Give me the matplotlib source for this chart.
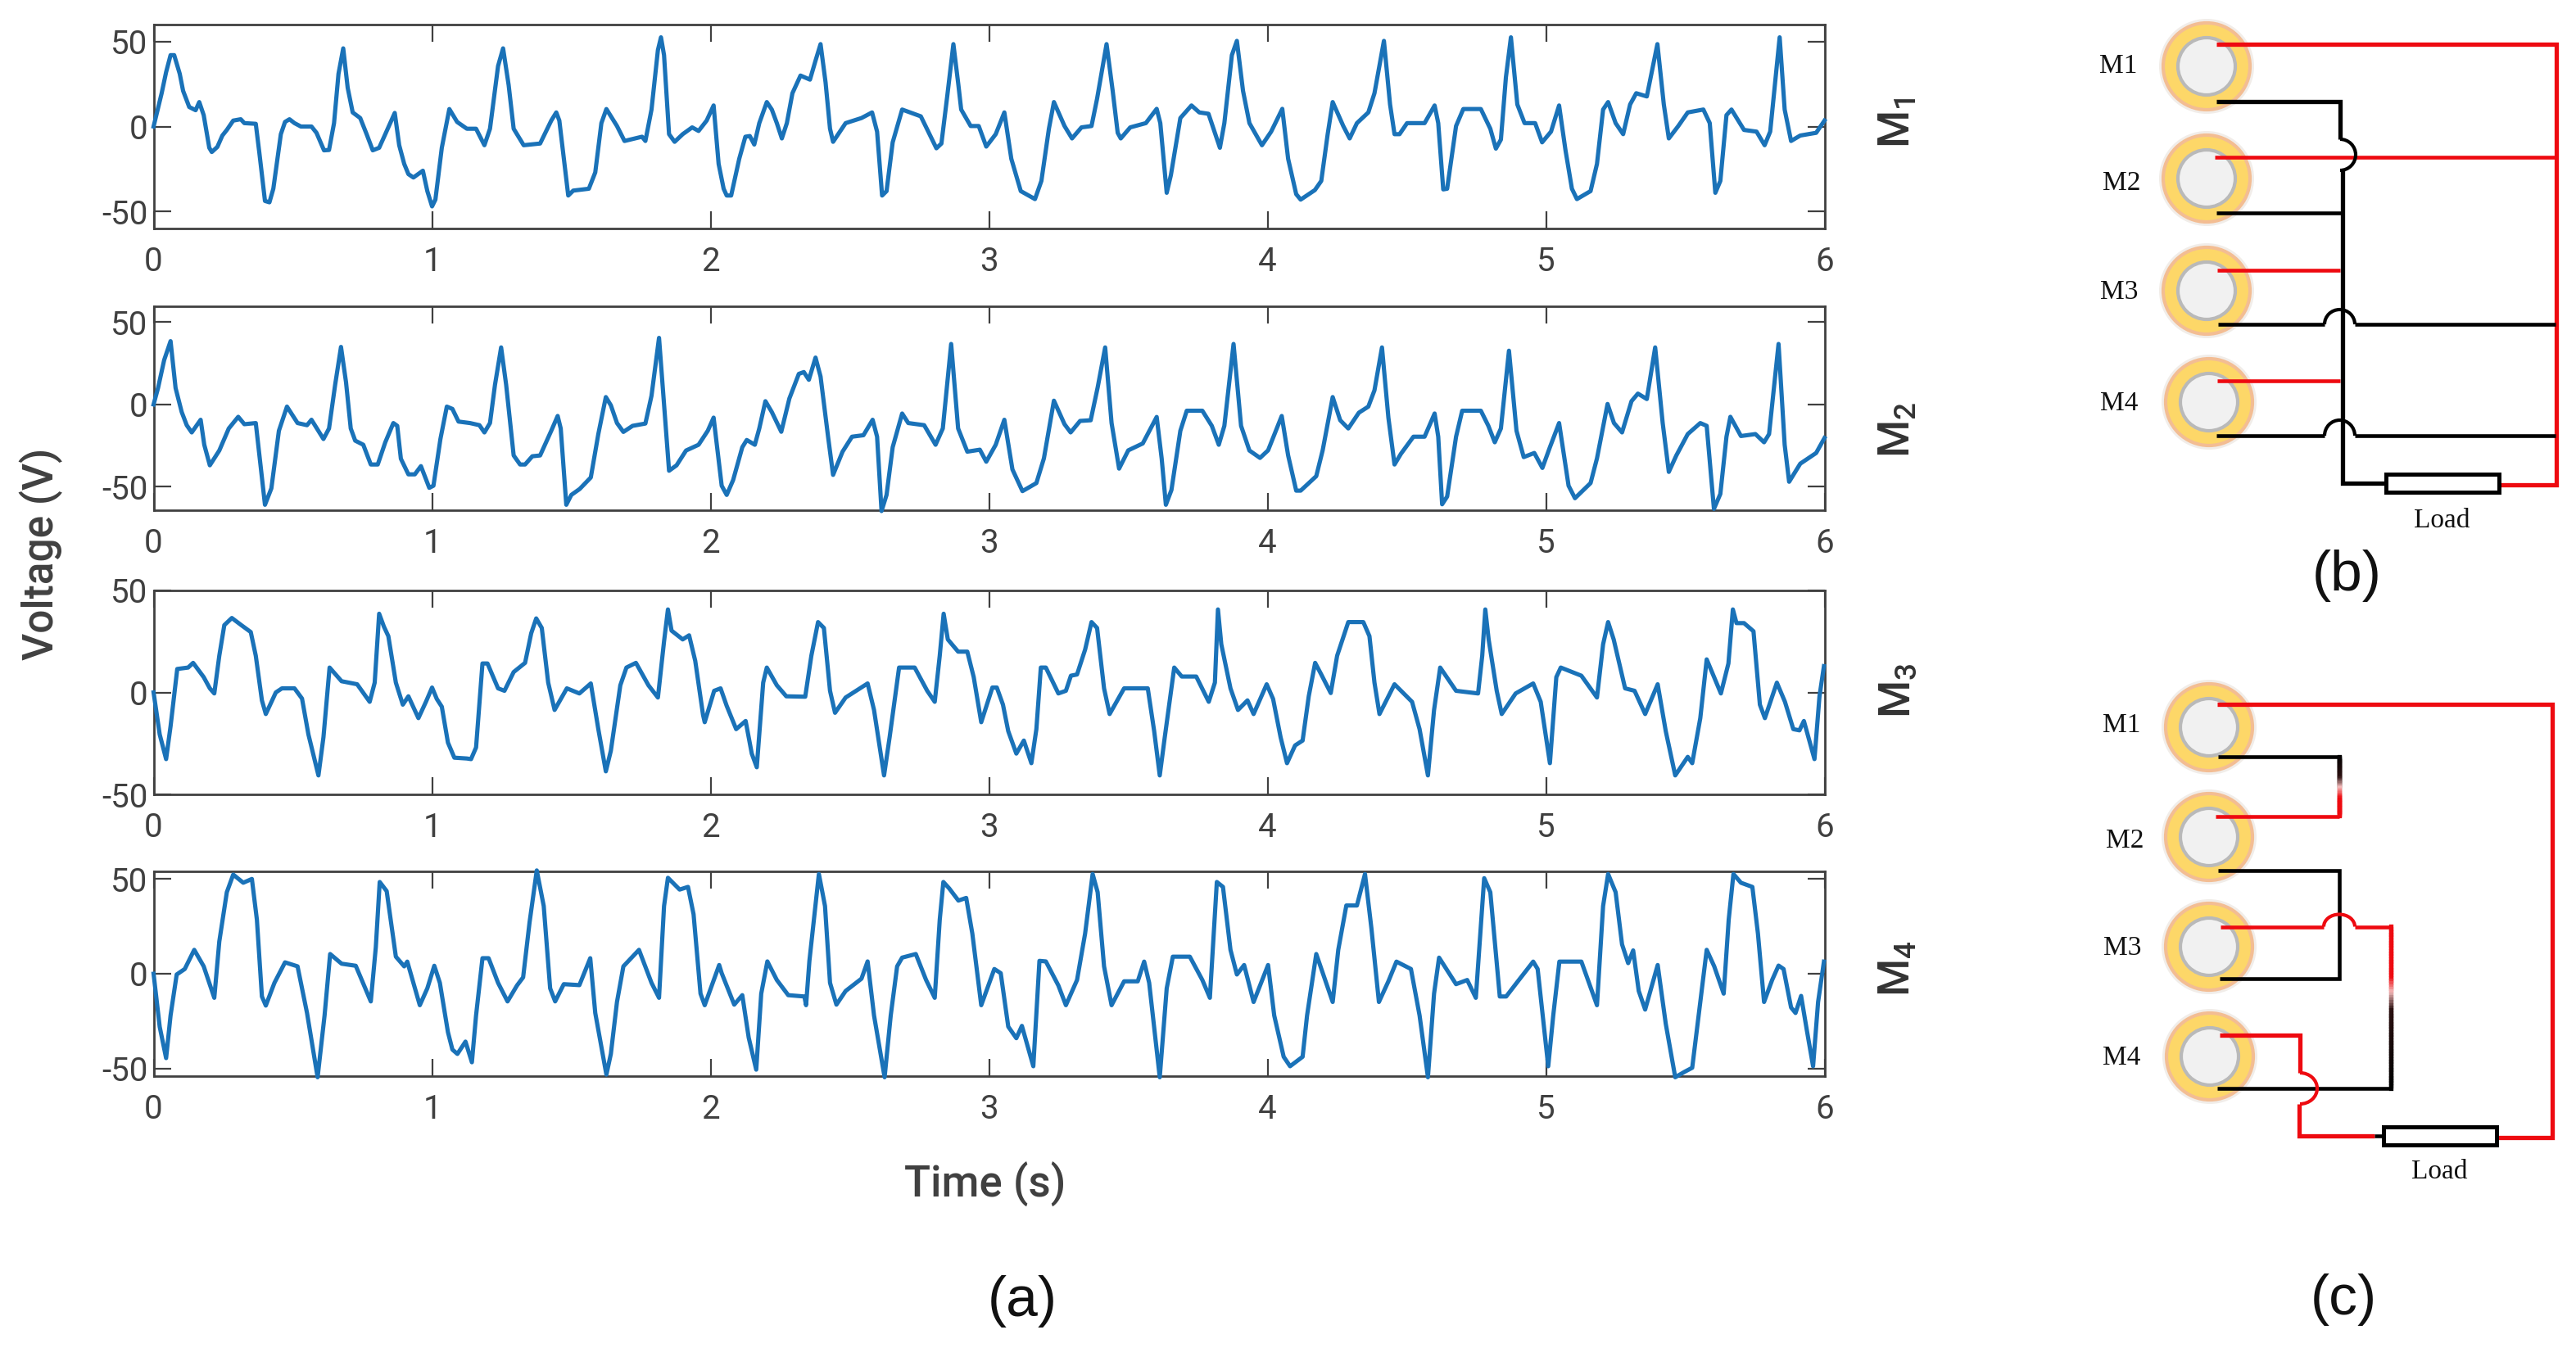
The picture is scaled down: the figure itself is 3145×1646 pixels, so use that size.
import numpy as np
import matplotlib
matplotlib.use('Agg')
import matplotlib.pyplot as plt
from matplotlib.patches import Circle, Rectangle, Arc

plt.rcParams['font.family'] = ['Roboto', 'DejaVu Sans']
plt.rcParams['mathtext.fontset'] = 'custom'
plt.rcParams['mathtext.bf'] = 'Roboto:medium'
plt.rcParams['mathtext.rm'] = 'Roboto'
plt.rcParams['axes.unicode_minus'] = False

# values, time in s, voltage in V
t1 = [0, .029, .045, .061, .074, .094, .106, .128, .151, .164, .18, .2, .209, .229, .247, .263, .286, .313, .326, .367,
      .38, .4, .416, .43, .457, .472, .488, .506, .529, .567, .585, .612, .63, .648, .664, .681, .697, .715, .742, .765,
      .787, .81, .832, .866, .882, .9, .915, .933, .967, .983, 1.0, 1.012, 1.035, 1.062, 1.09, 1.125, 1.158, 1.188, 1.208, 1.237,
      1.255, 1.275, 1.293, 1.329, 1.388, 1.428, 1.446, 1.457, 1.489, 1.507, 1.563, 1.586, 1.608, 1.626, 1.664, 1.691, 1.754, 1.766, 1.788, 1.811,
      1.822, 1.833, 1.851, 1.871, 1.9, 1.934, 1.957, 1.986, 2.011, 2.029, 2.047, 2.058, 2.074, 2.103, 2.125, 2.141, 2.157, 2.175, 2.202, 2.22,
      2.238, 2.256, 2.274, 2.294, 2.323, 2.357, 2.377, 2.395, 2.413, 2.429, 2.44, 2.485, 2.542, 2.58, 2.598, 2.616, 2.632, 2.654, 2.688, 2.755,
      2.811, 2.829, 2.85, 2.872, 2.89, 2.9, 2.934, 2.963, 2.99, 3.024, 3.055, 3.08, 3.114, 3.165, 3.188, 3.215, 3.233, 3.271, 3.298, 3.332,
      3.368, 3.388, 3.422, 3.444, 3.462, 3.473, 3.507, 3.563, 3.602, 3.615, 3.638, 3.653, 3.687, 3.727, 3.755, 3.788, 3.829, 3.845, 3.872, 3.89,
      3.912, 3.935, 3.98, 4.013, 4.053, 4.074, 4.103, 4.119, 4.17, 4.193, 4.216, 4.234, 4.272, 4.295, 4.321, 4.362, 4.384, 4.418, 4.44, 4.456,
      4.474, 4.501, 4.564, 4.6, 4.613, 4.631, 4.645, 4.677, 4.703, 4.766, 4.8, 4.82, 4.838, 4.856, 4.874, 4.897, 4.923, 4.961, 4.986, 5.018,
      5.047, 5.07, 5.093, 5.111, 5.16, 5.183, 5.205, 5.223, 5.25, 5.277, 5.302, 5.324, 5.362, 5.38, 5.4, 5.423, 5.441, 5.475, 5.509, 5.565,
      5.588, 5.608, 5.626, 5.648, 5.666, 5.711, 5.756, 5.785, 5.805, 5.839, 5.857, 5.88, 5.913, 5.97, 6.0]
v1 = [0, 19.6, 32, 42, 42, 31, 21, 11.5, 9.6, 14.4, 6.7, -12.5, -15, -12, -5.3, -2, 3.5, 4.3, 2, 1.6,
      -15.7, -43.8, -44.6, -36.6, -4.5, 2.7, 4.3, 2, 0, 0, -3.7, -14, -13.8, 2, 31, 46, 22.8, 8.3, 5, -4.5,
      -14, -12.5, -4.5, 8, -11, -22, -28, -30, -26, -38, -47, -43, -12.5, 10.3, 2.7, -1.3, -1.3, -11, -1.3, 35.6,
      46, 24.4, -1.3, -11, -10, 3.5, 8.3, 3.5, -40.6, -37.7, -36.6, -27, 2, 10.3, .3, -8.5, -6, -8.5, 10, 45,
      52.5, 42, -4.5, -9, -4.5, -.5, -2.6, 3.5, 12.4, -22, -36.6, -40.6, -40.6, -19, -6, -5.6, -10.6, 2, 14.4, 10,
      2, -7, 2, 19.6, 30, 27.6, 38.8, 48.5, 26, -1.3, -9, 2, 5, 8.3, -3, -40.6, -38, -9.3, 10, 6,
      -12.8, -10, 18, 48.5, 24.4, 10, .3, .3, -11.8, -4.5, 8.3, -19, -38, -42.7, -32, -1.3, 14.4, .3, -7, -.5,
      .3, 16.4, 48.5, 21, -3.7, -7, -.5, 2, 10.4, 2, -39, -28.6, 5, 12.4, 8.3, 7.5, -12.5, 2, 42, 50.4,
      21, 2, -11, -3, 10.4, -19, -39.8, -43, -37.4, -32, -4.5, 14.4, .3, -7, 2, 8.3, 19.6, 50.4, 13, -4.5,
      -4.5, 2, 2, 12.4, 2, -37, -36.6, .3, 10.3, 10.3, -1.3, -13, -7.7, 29, 52.5, 13, 2, 2, -9.3, -3,
      12.4, -14, -36.6, -42.7, -38, -22, 10, 14.4, 2, -4.5, 13, 19.6, 17.7, 32.4, 48.5, 13, -7, .3, 8.3, 10,
      2, -39, -32, 6.7, 10, -2, -3, -11, -3, 52.5, 10, -8.5, -5.3, -3.7, 3.5]

t2 = [0, .016, .038, .061, .079, .101, .119, .137, .169, .182, .202, .236, .27, .304, .326, .367, .38, .4, .423, .45,
      .479, .517, .551, .567, .61, .63, .652, .673, .691, .708, .724, .753, .78, .805, .832, .861, .875, .888, .915, .938,
      .96, .99, 1.005, 1.03, 1.053, 1.073, 1.095, 1.136, 1.17, 1.188, 1.208, 1.226, 1.248, 1.266, 1.293, 1.316, 1.334, 1.36, 1.388, 1.428,
      1.451, 1.462, 1.482, 1.5, 1.53, 1.57, 1.597, 1.624, 1.642, 1.664, 1.687, 1.72, 1.766, 1.788, 1.815, 1.833, 1.851, 1.878, 1.912, 1.957,
      1.99, 2.011, 2.027, 2.04, 2.058, 2.081, 2.114, 2.13, 2.159, 2.175, 2.197, 2.22, 2.254, 2.283, 2.317, 2.335, 2.353, 2.377, 2.395, 2.422,
      2.44, 2.474, 2.508, 2.549, 2.582, 2.598, 2.614, 2.632, 2.654, 2.688, 2.71, 2.767, 2.808, 2.834, 2.864, 2.889, 2.922, 2.967, 2.99, 3.024,
      3.055, 3.084, 3.12, 3.17, 3.197, 3.233, 3.271, 3.293, 3.327, 3.365, 3.39, 3.417, 3.44, 3.467, 3.5, 3.552, 3.602, 3.62, 3.635, 3.655,
      3.687, 3.71, 3.766, 3.8, 3.825, 3.845, 3.878, 3.905, 3.935, 3.973, 4.002, 4.051, 4.074, 4.103, 4.119, 4.175, 4.198, 4.234, 4.261, 4.29,
      4.328, 4.362, 4.384, 4.411, 4.434, 4.456, 4.479, 4.524, 4.564, 4.6, 4.613, 4.627, 4.645, 4.677, 4.699, 4.766, 4.793, 4.816, 4.838, 4.867,
      4.894, 4.92, 4.958, 4.987, 5.014, 5.047, 5.081, 5.104, 5.16, 5.183, 5.221, 5.244, 5.273, 5.307, 5.33, 5.362, 5.392, 5.419, 5.441, 5.468,
      5.509, 5.554, 5.577, 5.603, 5.626, 5.648, 5.662, 5.7, 5.752, 5.783, 5.801, 5.835, 5.857, 5.873, 5.913, 5.97, 6.0]
v2 = [0, 10, 27, 38.5, 10, -4.6, -12.6, -17, -9.3, -24.5, -37, -28, -14.6, -7.5, -12, -11.3, -31, -61, -51, -16,
      -1.3, -11.3, -12.6, -9.3, -21, -14.6, 12, 35, 13.6, -14.6, -22, -24.5, -36.5, -36.5, -23, -11.3, -13, -33, -42.5, -42.5,
      -37.5, -50.7, -49.4, -21, -1.3, -2.7, -10.4, -11.3, -12.6, -17, -11.3, 12, 34.7, 12, -31, -36.5, -36.5, -31.5, -31, -16,
      -7, -14.6, -61, -55, -51.4, -44.4, -18, 4.5, -.5, -11.3, -16.7, -13, -11.6, 5.3, 40.5, 0, -40.3, -37, -28, -24.5,
      -16, -8, -31, -49.4, -55, -46, -26, -21.6, -24.5, -14.6, 2, -4.6, -16.6, 3.6, 18.6, 19.7, 15, 28.5, 17, -19.6,
      -42.8, -28.7, -19.6, -18.7, -9.3, -19.6, -64.8, -55, -26, -5.5, -11.3, -12.6, -24.5, -14.6, 36.8, -14.6, -28.7, -27.5, -34.8, -24.5,
      -9.3, -39.5, -52.7, -47.8, -32.8, 2.3, -12, -17, -10, -9.6, 10.3, 34.7, -11.3, -39, -27.9, -23.7, -7.6, -33, -61, -52,
      -16, -3.8, -3.8, -13, -24.5, -13, 36.8, -13, -28, -32.5, -27.9, -7, -31, -52.4, -52.4, -43.6, -27.9, 4.5, -9.6, -14.6,
      -5, -1.3, 8.6, 34.7, -8, -36.5, -30, -19.6, -19.6, -5.5, -19.6, -60.7, -56, -19.6, -3.8, -3.8, -13, -23, -14.6, 32.7,
      -16, -32, -29.5, -38.6, -26, -11.3, -49.4, -57, -47.8, -32.8, .3, -11.3, -17, 2, 6.6, 3.3, 34.7, -11.3, -41, -31,
      -18, -11.3, -13, -63.5, -54.4, -19.6, -7.5, -19.2, -18, -23, -18, 36.8, -24.5, -47, -36, -29.5, -20.4]

t3 = [0, .022, .045, .061, .085, .124, .142, .18, .202, .218, .236, .254, .281, .315, .349, .367, .389, .403, .439, .461,
      .506, .533, .556, .592, .61, .632, .675, .731, .776, .794, .81, .827, .843, .87, .895, .915, .951, .978, 1.0, 1.017,
      1.035, 1.057, 1.08, 1.125, 1.14, 1.158, 1.181, 1.199, 1.237, 1.26, 1.293, 1.334, 1.356, 1.374, 1.394, 1.417, 1.44, 1.484, 1.529, 1.57,
      1.597, 1.624, 1.642, 1.676, 1.698, 1.732, 1.777, 1.811, 1.833, 1.847, 1.86, 1.9, 1.923, 1.945, 1.973, 1.979, 2.013, 2.036, 2.058, 2.092,
      2.126, 2.148, 2.166, 2.189, 2.202, 2.238, 2.272, 2.34, 2.362, 2.386, 2.407, 2.429, 2.447, 2.485, 2.564, 2.587, 2.623, 2.643, 2.677, 2.733,
      2.778, 2.805, 2.823, 2.837, 2.852, 2.889, 2.922, 2.945, 2.972, 3.012, 3.028, 3.05, 3.069, 3.098, 3.125, 3.152, 3.17, 3.186, 3.204, 3.249,
      3.276, 3.294, 3.316, 3.345, 3.368, 3.388, 3.413, 3.433, 3.485, 3.57, 3.593, 3.613, 3.631, 3.665, 3.692, 3.744, 3.789, 3.811, 3.822, 3.834,
      3.867, 3.894, 3.928, 3.95, 3.997, 4.02, 4.047, 4.07, 4.099, 4.126, 4.148, 4.171, 4.193, 4.227, 4.25, 4.29, 4.344, 4.366, 4.384, 4.402,
      4.456, 4.519, 4.546, 4.576, 4.598, 4.62, 4.677, 4.756, 4.771, 4.782, 4.794, 4.823, 4.841, 4.891, 4.954, 4.981, 5.014, 5.037, 5.053, 5.127,
      5.183, 5.205, 5.223, 5.243, 5.284, 5.318, 5.356, 5.401, 5.43, 5.464, 5.509, 5.525, 5.554, 5.577, 5.628, 5.655, 5.671, 5.684, 5.711, 5.745,
      5.768, 5.786, 5.829, 5.858, 5.888, 5.91, 5.926, 5.964, 5.982, 5.998]
v3 = [0, -20.6, -32.7, -16.6, 11.5, 12.2, 14.5, 7.5, 2, -.5, 18, 33, 36.5, 33, 29.6, 18, -3.9, -10.6, 0, 2,
      2, -3, -20.6, -40.7, -22, 12.2, 5.5, 4, -4.6, 4.8, 38.6, 32.3, 27.6, 4.8, -6, -1.9, -12.6, -4.6, 2.4, -3.2,
      -7, -24.6, -32, -32.4, -32.7, -27, 14.2, 14.2, 2, .8, 10, 14.5, 29, 36.3, 31.6, 4.8, -8.6, 2, -.5, 4.4,
      -18, -38.7, -28.6, 3.5, 12.2, 14.5, 3.5, -2.5, 25, 40.7, 30.3, 26, 28, 15.5, -11, -14.6, .8, 2, -6.6, -18,
      -14, -30, -36.7, 4.8, 12.2, 3.5, -1.9, -2.1, 18, 34.5, 31.6, .8, -10, -2.5, 4.4, -8.6, -40.7, -22, 12.2, 12.2,
      .8, -4.6, 18, 38.6, 26, 20, 20, 7.5, -14.6, 2.4, 2.4, -6, -19, -30, -23.6, -34.7, -18, 12.2, 12.2, -.5,
      .8, 8.2, 8.8, 21, 34.5, 31.6, 2, -10.6, 2, 2, -19, -40.7, -22, 12.2, 7.8, 7.8, -4.6, 4.8, 40.7, 23.6,
      2, -8.6, -3.9, -10.6, 4, -3.2, -22, -34.7, -26, -23.6, -1.9, 14.5, 8.8, -.3, 18, 34.5, 34.5, 27.6, 4.8, -10.6,
      4, -4.6, -18, -40.7, -8.6, 12.2, .8, -.5, 18, 40.7, 26, .8, -10.6, -.5, 4.4, -4.6, -34.7, 7.5, 12.2, 8.2,
      -2.5, 23.6, 34.5, 26, 2, .8, -10.6, 4, -19, -40.7, -31.6, -34.7, -12.6, 16.2, -.5, 14.2, 40.7, 34, 34, 30,
      -6, -12.6, 4.8, -4.6, -18, -18.6, -14, -32.7, -1.9, 12.9]

t4 = [0, .022, .045, .061, .083, .112, .146, .18, .218, .236, .263, .286, .322, .353, .371, .389, .403, .434, .472, .517,
      .551, .589, .614, .634, .675, .726, .78, .798, .812, .837, .87, .9, .911, .956, .983, 1.008, 1.028, 1.057, 1.073, 1.091,
      1.12, 1.143, 1.158, 1.181, 1.203, 1.237, 1.271, 1.305, 1.327, 1.35, 1.376, 1.401, 1.424, 1.442, 1.473, 1.529, 1.568, 1.586, 1.626, 1.642,
      1.664, 1.687, 1.743, 1.788, 1.815, 1.833, 1.847, 1.889, 1.919, 1.939, 1.964, 1.979, 2.031, 2.04, 2.085, 2.114, 2.137, 2.164, 2.182, 2.204,
      2.238, 2.279, 2.337, 2.343, 2.355, 2.389, 2.411, 2.429, 2.452, 2.485, 2.542, 2.564, 2.587, 2.625, 2.647, 2.67, 2.688, 2.737, 2.774, 2.805,
      2.823, 2.836, 2.857, 2.89, 2.918, 2.94, 2.972, 3.019, 3.042, 3.069, 3.098, 3.118, 3.159, 3.181, 3.204, 3.249, 3.276, 3.316, 3.345, 3.372,
      3.39, 3.413, 3.44, 3.485, 3.534, 3.557, 3.575, 3.613, 3.638, 3.66, 3.721, 3.766, 3.793, 3.818, 3.84, 3.867, 3.89, 3.916, 3.95, 4.002,
      4.024, 4.058, 4.081, 4.126, 4.142, 4.175, 4.234, 4.254, 4.283, 4.321, 4.35, 4.373, 4.4, 4.434, 4.463, 4.515, 4.546, 4.576, 4.598, 4.616,
      4.677, 4.717, 4.748, 4.778, 4.8, 4.834, 4.857, 4.891, 4.954, 4.97, 5.008, 5.026, 5.048, 5.127, 5.183, 5.205, 5.223, 5.25, 5.273, 5.295,
      5.313, 5.333, 5.356, 5.401, 5.43, 5.464, 5.498, 5.525, 5.548, 5.577, 5.604, 5.638, 5.656, 5.673, 5.7, 5.741, 5.761, 5.783, 5.812, 5.835,
      5.853, 5.88, 5.896, 5.916, 5.936, 5.959, 5.977, 5.998]
v4 = [0, -28, -44.5, -22, -.4, 2.5, 12.6, 3.9, -12.7, 17, 43, 52.3, 48, 50, 28.5, -12, -16.8, -4.8, 6, 3.9,
      -20.7, -54.6, -22, 10.4, 5.3, 4.2, -14.6, 14, 48.4, 43.6, 9, 3.9, 6.4, -16.6, -7.7, 4.2, -4.8, -30.8, -40, -42.3,
      -35.8, -46.7, -22, 8.2, 8.2, -4.8, -14.6, -6.2, -1.9, 27, 54.5, 35.7, -7.7, -14.6, -5.5, -6, 8.2, -20.7, -53.2, -42.3,
      -14.9, 3.9, 12.6, -4.8, -12.7, 35.7, 50.6, 44.4, 45.8, 31.4, -10.5, -16.6, 4.6, .3, -16.3, -11.3, -33.7, -50.6, -10.5, 6.5,
      -3.3, -11.3, -12, -16.6, 6.8, 52.6, 35.7, -4.8, -16.3, -9.1, -2.6, 6.5, -22, -54.6, -22, 3.9, 8.5, 10.4, -3.3, -12.7,
      28.5, 48.4, 45, 38.6, 40, 21.2, -16.6, 2.5, .3, -27.9, -34, -27.5, -48.8, 6.8, 6.5, -6.2, -16.6, -3.3, 21.2, 52.6,
      43, 3.9, -16.6, -4, -4, 6.4, -4.8, -54.6, -7.7, 9, 9, -3.3, -12.7, 48.4, 45.8, 12.6, -.4, 4.6, -14.9, 4.6,
      -22, -43.8, -48.8, -43.8, -22, 10.4, -14.9, 12.6, 36, 36, 52.6, 24, -14.9, -4, 6.4, 2.5, -22, -54.6, -10.5, 8.5,
      -5.5, -3.3, -12.7, 50.4, 43, -12, -12, -5.5, 6.4, 2.5, -48.8, -22, 6.4, 6.4, -16.6, 35.7, 52.6, 43, 15.5, 5.6,
      12.3, -9.1, -18.9, 4.6, -26.4, -54.6, -51.7, -49.6, -22, 12.6, 3.9, -10.5, 28.5, 52.6, 48, 45.8, 21.2, -14.9, -3.3, 4.3,
      2.5, -17.8, -20.7, -11.7, -29.3, -48.8, -14.9, 6.4]

W, H = 3145, 1646
GREY = '#404040'
BLUE = '#1a72b8'
RED = '#ee0a10'

fig = plt.figure(figsize=(W / 100, H / 100), dpi=100)

# plots in pixel boxes: top, bottom, ylim
boxes = [(30, 279, -60, 60), (374, 623, -64.3, 59.7), (721, 970, -50, 50), (1064, 1314, -54, 54)]
names = [r'$\mathbf{M_1}$', r'$\mathbf{M_2}$', r'$\mathbf{M_3}$', r'$\mathbf{M_4}$']
name_y = [150, 525, 843, 1183]
series = [(t1, v1), (t2, v2), (t3, v3), (t4, v4)]

for (top, bot, lo, hi), (t, v) in zip(boxes, series):
    ax = fig.add_axes([187.5 / W, 1 - bot / H, 2040 / W, (bot - top) / H])
    ax.plot(t, v, color=BLUE, lw=3.7, clip_on=False, zorder=5, solid_joinstyle='round')
    ax.set_xlim(0, 6)
    ax.set_ylim(lo, hi)
    ax.set_xticks(range(7))
    ax.set_yticks([-50, 0, 50])
    ax.tick_params(axis='both', direction='in', top=True, right=True, length=15, width=1.6,
                   color=GREY, labelcolor=GREY, labelsize=29)
    ax.tick_params(axis='x', pad=15)
    ax.tick_params(axis='y', pad=5)
    for s in ax.spines.values():
        s.set_linewidth(2.0)
        s.set_color(GREY)

# overlay in pixel coordinates for the labels and the two circuits
ov = fig.add_axes([0, 0, 1, 1], zorder=10)
ov.set_xlim(0, W)
ov.set_ylim(H, 0)
ov.axis('off')
ov.patch.set_alpha(0)

for name, y in zip(names, name_y):
    ov.text(2317, y, name, rotation=90, ha='center', va='center', fontsize=38, color='#333333')
ov.text(50, 676, 'Voltage (V)', rotation=90, ha='center', va='center', fontsize=37, color=GREY, fontweight='medium')
ov.text(1203, 1446, 'Time (s)', ha='center', va='center', fontsize=38, color=GREY, fontweight='medium')
for x, y, s in [(1248, 1589, '(a)'), (2865, 703, '(b)'), (2861, 1587, '(c)')]:
    ov.text(x, y, s, ha='center', va='center', fontsize=50, color='#111111', family='Liberation Sans')


def disc(x, y):
    ov.add_patch(Circle((x, y), 58, fc='#c8b8a8', ec='none', alpha=0.25, zorder=1))
    ov.add_patch(Circle((x, y), 53, fc='#fdd768', ec='#f3bd93', lw=3, zorder=2))
    ov.add_patch(Circle((x, y), 35, fc='#f1f1f1', ec='#b9b9b9', lw=3, zorder=3))


def wire(xs, ys, color='black', lw=3.3):
    ov.plot(xs, ys, color=color, lw=lw, solid_joinstyle='miter', solid_capstyle='butt', zorder=4)


def hop_up(x0, x1, y, rise, color='black'):
    # little half arc over the crossing wire
    ov.add_patch(Arc(((x0 + x1) / 2, y), x1 - x0, 2 * rise, theta1=180, theta2=360, color=color, lw=3, zorder=5))


def hop_right(x, y0, y1, bulge, color='black'):
    ov.add_patch(Arc((x, (y0 + y1) / 2), 2 * bulge, y1 - y0, theta1=-90, theta2=90, color=color, lw=3, zorder=5))


def fade(x, y0, y1, stops, lw=3.3):
    # vertical wire whose colour runs through the stops
    yy = np.linspace(y0, y1, 61)
    pos = [s[0] for s in stops]
    rgb = np.array([matplotlib.colors.to_rgb(s[1]) for s in stops])
    for a, b in zip(yy[:-1], yy[1:]):
        c = [np.interp((a + b) / 2, pos, rgb[:, i]) for i in range(3)]
        ov.plot([x, x], [a, b], color=c, lw=lw, solid_capstyle='projecting', zorder=4)


def load(x0, x1, y0, y1, tx, ty):
    ov.add_patch(Rectangle((x0, y0), x1 - x0, y1 - y0, fc='white', ec='black', lw=3.6, zorder=6))
    ov.text(tx, ty, 'Load', ha='center', va='center', fontsize=24, family='Liberation Serif', color='#111111')


def labels(pos):
    for i, (x, y) in enumerate(pos):
        ov.text(x, y, 'M%d' % (i + 1), ha='center', va='center', fontsize=24, family='Liberation Serif', color='#111111')


# (b) all in parallel
for x, y in [(2694, 81), (2694, 218), (2694, 355), (2697, 491)]:
    disc(x, y)
labels([(2586, 81), (2590, 224), (2587, 357), (2587, 493)])
wire([2706, 3121, 3121, 3053], [54, 54, 592, 592], RED, 3.8)
wire([2704, 3121], [191.5, 191.5], RED)
wire([2707, 2857], [329.5, 329.5], RED)
wire([2707, 2857], [465, 465], RED)
wire([2706, 2857, 2857], [123.5, 123.5, 170], 'black', 3.8)
hop_right(2857, 170, 208, 19)
wire([2860, 2860, 2912], [208, 590, 590], 'black', 3.8)
wire([2706, 2860], [260, 260])
wire([2708, 2838], [396, 396])
hop_up(2838, 2875, 396, 18)
wire([2875, 3120], [396, 396])
wire([2706, 2838], [532, 532])
hop_up(2838, 2875, 532, 19)
wire([2875, 3120], [532, 532])
load(2913, 3051, 579, 601, 2981, 636)

# (c) all in series
for x, y in [(2697, 888), (2697, 1022), (2697, 1156), (2698, 1290)]:
    disc(x, y)
labels([(2590, 886), (2594, 1027), (2591, 1158), (2590, 1292)])
wire([2707, 3116, 3116, 3049], [860, 860, 1389, 1389], RED, 3.8)
wire([2708, 2856], [924, 924])
fade(2856, 924, 996, [(924, 'black'), (950, '#2a1010'), (963, '#f2b8b8'), (976, RED), (996, RED)], 3.8)
wire([2856, 2705], [996.5, 996.5], RED)
wire([2708, 2856, 2856, 2710], [1063, 1063, 1194.5, 1194.5])
wire([2711, 2837], [1131.5, 1131.5], RED)
hop_up(2837, 2875, 1131.5, 15, RED)
wire([2875, 2919], [1131.5, 1131.5], RED)
fade(2919, 1131, 1329, [(1131, RED), (1195, RED), (1213, '#f2b8b8'), (1235, '#2a1010'), (1329, 'black')], 3.8)
wire([2919, 2707], [1329, 1329])
wire([2710, 2808, 2808], [1264, 1264, 1310], RED, 3.8)
hop_right(2808, 1310, 1348, 21, RED)
wire([2807, 2807, 2899], [1348, 1387, 1387], RED, 3.8)
wire([2899, 2911], [1387, 1387])
load(2910, 3048, 1376, 1398, 2978, 1431)

fig.savefig('out.png', dpi=100, facecolor='white')
